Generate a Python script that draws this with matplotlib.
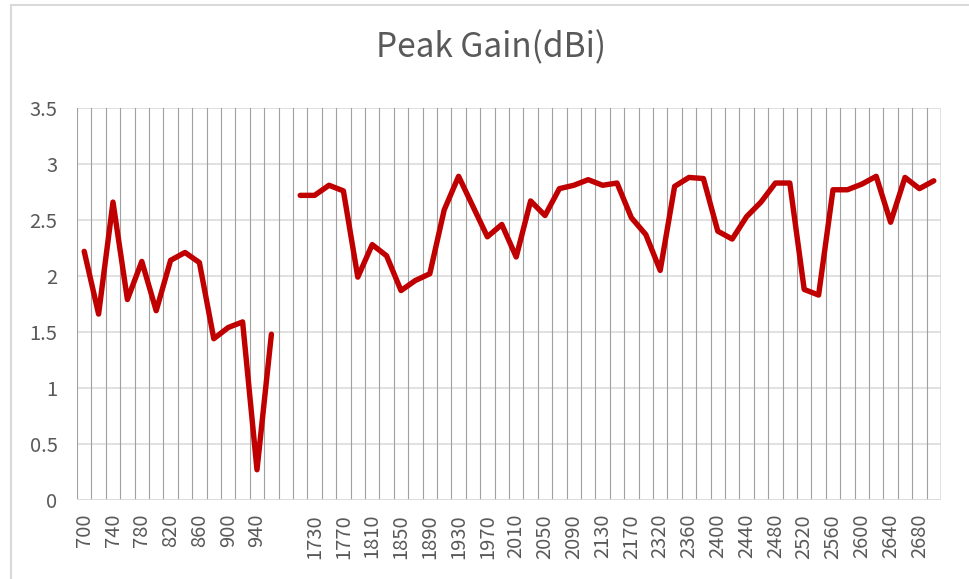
import numpy as np
import matplotlib
matplotlib.use("Agg")
import matplotlib.pyplot as plt
from matplotlib.patches import Rectangle

plt.rcParams['font.family'] = ['Noto Sans CJK SC', 'DejaVu Sans']
plt.rcParams['font.weight'] = 'light'

# frequency categories (MHz), one empty slot between the low and high bands
freq_low = [700, 720, 740, 760, 780, 800, 820, 840, 860, 880, 900, 920, 940, 960]
freq_mid = [1710, 1730, 1750, 1770, 1790, 1810, 1830, 1850, 1870, 1890, 1910, 1930,
            1950, 1970, 1990, 2010, 2030, 2050, 2070, 2090, 2110, 2130, 2150, 2170]
freq_high = [2300, 2320, 2340, 2360, 2380, 2400, 2420, 2440, 2460, 2480, 2500,
             2520, 2540, 2560, 2580, 2600, 2620, 2640, 2660, 2680, 2700]

gain_low = [2.22, 1.66, 2.66, 1.79, 2.13, 1.69, 2.14, 2.21, 2.12, 1.44, 1.54, 1.59, 0.27, 1.48]
gain_mid = [2.72, 2.72, 2.81, 2.76, 1.99, 2.28, 2.18, 1.87, 1.96, 2.02, 2.59, 2.89,
            2.62, 2.35, 2.46, 2.17, 2.67, 2.54, 2.78, 2.81, 2.86, 2.81, 2.83, 2.52]
gain_high = [2.37, 2.05, 2.80, 2.88, 2.87, 2.40, 2.33, 2.53, 2.66, 2.83, 2.83,
             1.88, 1.83, 2.77, 2.77, 2.82, 2.89, 2.48, 2.88, 2.78, 2.85]

labels = [str(f) for f in freq_low] + [""] + [str(f) for f in freq_mid] + [str(f) for f in freq_high]
gain = gain_low + [np.nan] + gain_mid + gain_high
x = np.arange(len(labels))

fig = plt.figure(figsize=(9.69, 5.79), dpi=100)
ax = fig.add_axes([77/969, 79/579, 864/969, 392/579])

# chart area border (cropped at right/bottom like the screenshot)
fig.patches.append(Rectangle((11/969, -0.05), 1.1, 1 - 5/579 + 0.05, transform=fig.transFigure,
                             fill=False, edgecolor="#d9d9d9", linewidth=1.5))

# gridlines
for yv in np.arange(0.5, 3.51, 0.5):
    ax.axhline(yv, color="#d9d9d9", linewidth=1.1, zorder=1)
for b in np.arange(-0.5, len(labels), 1.0):
    ax.axvline(b, color="#a0a0a0", linewidth=0.8, zorder=1)
ax.axvline(len(labels) - 0.5, color="#d9d9d9", linewidth=1.1, zorder=1)
ax.axhline(0, color="#d9d9d9", linewidth=1.3, zorder=1)

ax.plot(x, gain, color="#c00000", linewidth=3.9, solid_joinstyle="round",
        solid_capstyle="round", zorder=3)

ax.set_xlim(-0.5, len(labels) - 0.5)
ax.set_ylim(0, 3.5)
ax.set_yticks(np.arange(0, 3.51, 0.5))
ax.set_yticklabels(["0", "0.5", "1", "1.5", "2", "2.5", "3", "3.5"])
ax.set_xticks(x[::2])
ax.set_xticklabels(labels[::2], rotation=90)
ax.tick_params(axis="y", length=0, pad=14, labelsize=14.5, labelcolor="#595959")
ax.tick_params(axis="x", length=0, pad=10, labelsize=14.5, labelcolor="#595959")
for s in ax.spines.values():
    s.set_visible(False)

fig.text(491/969, 1 - 48/579, "Peak Gain(dBi)", ha="center", va="center",
         fontsize=24, color="#595959")

fig.savefig("out.png", dpi=100)
